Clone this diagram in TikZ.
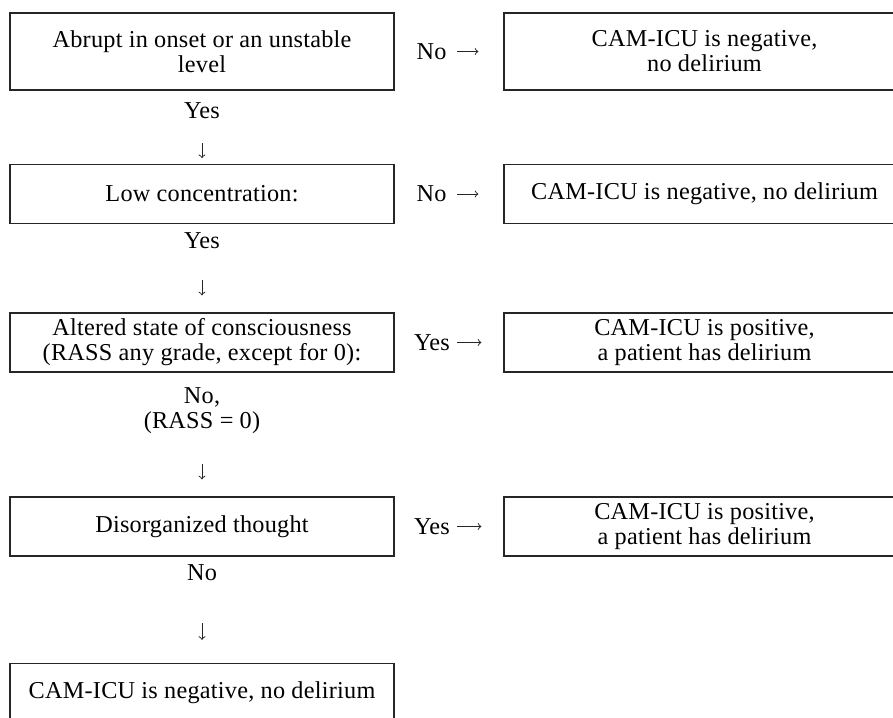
\documentclass[tikz,border=0pt]{standalone}
\usepackage{fontspec}
\setmainfont{Liberation Serif}[LetterSpace=1.0]
\begin{document}
\begin{tikzpicture}[
    cond/.style={draw=black!85, line width=0.7pt, rectangle, minimum width=7.68cm, minimum height=1.17cm, align=center, font=\fontsize{13.8}{14.2}\selectfont, inner sep=0pt},
    res/.style={draw=black!85, line width=0.7pt, rectangle, minimum width=8.02cm, minimum height=1.17cm, align=center, font=\fontsize{13.8}{14.2}\selectfont, inner sep=0pt},
    lbl/.style={inner sep=0pt, align=center, font=\fontsize{13.8}{14.2}\selectfont},
    arrow/.style={->, >=to, line width=0.55pt, draw=black!85}
]
\useasboundingbox (0,0) rectangle (17.86,-14.36);
\clip (0,0) rectangle (17.86,-14.36);

% Step 1
\node[cond, minimum height=1.54cm] (c1) at (4.04, -1.03) {Abrupt in onset or an unstable\\level};
\node[res, minimum height=1.54cm] (r1) at (14.09, -1.03) {CAM-ICU is negative,\\no delirium};
\node[lbl] (n1) at (8.63, -1.03) {No};
\draw[arrow, shorten <=0.21cm, shorten >=0.5cm] (n1) -- (r1);
\node[lbl] (y1) at (4.04, -2.22) {Yes};

% Step 2
\node[cond] (c2) at (4.04, -3.88) {Low concentration:};
\node[res] (r2) at (14.09, -3.88) {CAM-ICU is negative, no delirium};
\node[lbl] (n2) at (8.63, -3.88) {No};
\draw[arrow, shorten <=0.21cm, shorten >=0.5cm] (n2) -- (r2);
\draw[arrow, shorten <=0.48cm, shorten >=0.12cm] (y1) -- (c2);
\node[lbl] (y2) at (4.04, -4.82) {Yes};

% Step 3
\node[cond, minimum height=1.18cm] (c3) at (4.04, -6.85) {Altered state of consciousness\\(RASS any grade, except for 0):};
\node[res, minimum height=1.18cm] (r3) at (14.09, -6.85) {CAM-ICU is positive,\\a patient has delirium};
\node[lbl] (y3) at (8.64, -6.85) {Yes};
\draw[arrow, shorten <=0.14cm, shorten >=0.44cm] (y3) -- (r3);
\draw[arrow, shorten <=0.62cm, shorten >=0.34cm] (y2) -- (c3);
\node[lbl] (n3) at (4.04, -8.22) {No,\\(RASS = 0)};

% Step 4
\node[cond, minimum height=1.18cm] (c4) at (4.04, -10.53) {Disorganized thought};
\node[res, minimum height=1.18cm] (r4) at (14.09, -10.53) {CAM-ICU is positive,\\a patient has delirium};
\node[lbl] (y4) at (8.64, -10.53) {Yes};
\draw[arrow, shorten <=0.14cm, shorten >=0.44cm] (y4) -- (r4);
\draw[arrow, shorten <=0.6cm, shorten >=0.34cm] (n3) -- (c4);
\node[lbl] (n4) at (4.04, -11.46) {No};

% End
\node[cond, minimum height=1.18cm] (c5) at (4.04, -13.86) {CAM-ICU is negative, no delirium};
\draw[arrow, shorten <=0.84cm, shorten >=0.46cm] (n4) -- (c5);

\end{tikzpicture}
\end{document}
